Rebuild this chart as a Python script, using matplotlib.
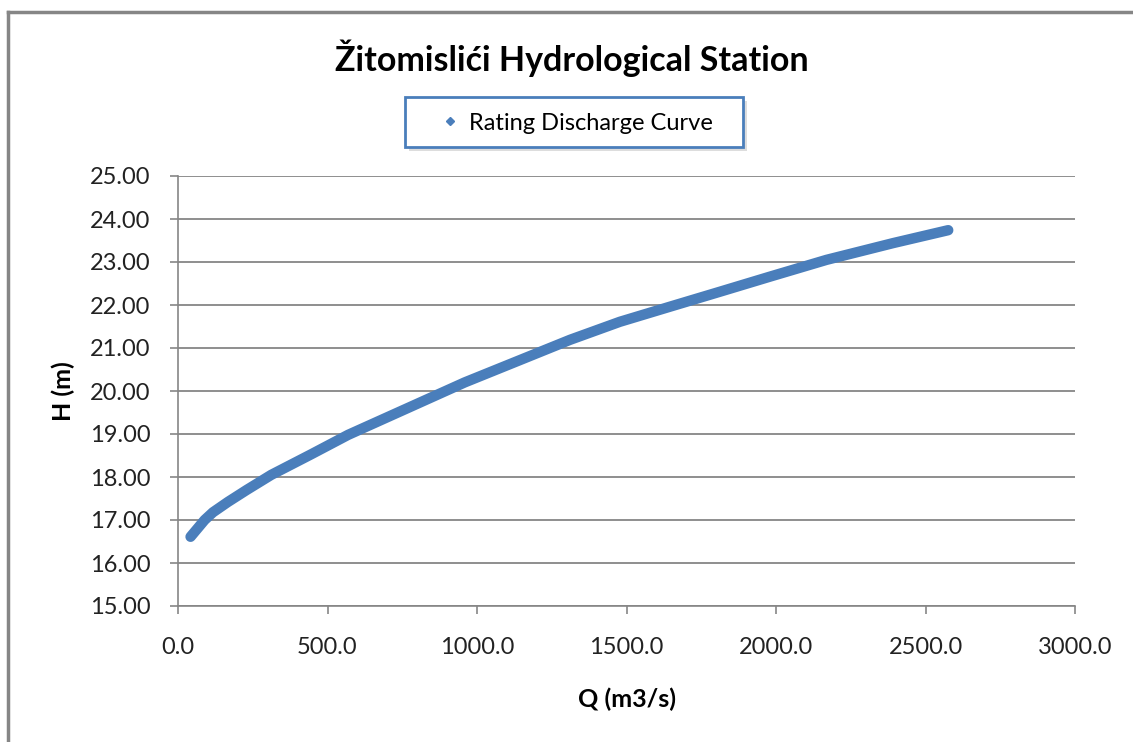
import matplotlib
matplotlib.use("Agg")
import matplotlib.pyplot as plt
from matplotlib.lines import Line2D
from matplotlib.patches import Rectangle

# rating curve points
discharge = [42, 89, 117, 167, 230, 312, 446, 569, 780, 959, 1144, 1311,
             1478, 1645, 1813, 1980, 2169, 2392, 2576]
stage = [16.61, 17.00, 17.18, 17.42, 17.70, 18.05, 18.53, 18.98, 19.64, 20.20,
         20.72, 21.19, 21.61, 21.96, 22.31, 22.66, 23.05, 23.44, 23.74]

x_ticks = [0, 500, 1000, 1500, 2000, 2500, 3000]
y_ticks = [15, 16, 17, 18, 19, 20, 21, 22, 23, 24, 25]

plt.rcParams["font.family"] = ["Lato", "DejaVu Sans"]
blue = "#4A7EBB"
grey = "#868686"
W, H = 1133, 742

fig = plt.figure(figsize=(W / 100, H / 100), dpi=100)
ax = fig.add_axes([178 / W, 136 / H, 897 / W, 430 / H])

ax.plot(discharge, stage, color=blue, linewidth=7.5, solid_capstyle="round",
        solid_joinstyle="round", label="Rating Discharge Curve")

ax.set_xlim(0, 3000)
ax.set_ylim(15, 25)
ax.set_xticks(x_ticks)
ax.set_xticklabels([f"{v:.1f}" for v in x_ticks])
ax.set_yticks(y_ticks)
ax.set_yticklabels([f"{v:.2f}" for v in y_ticks])
ax.tick_params(axis="both", labelsize=17, color=grey, length=6, width=1.2,
               labelcolor="#222222")
ax.tick_params(axis="x", pad=16.5)
ax.tick_params(axis="y", pad=14)
ax.grid(axis="y", color=grey, linewidth=1.3)
ax.set_axisbelow(True)
for side in ["top", "right"]:
    ax.spines[side].set_visible(False)
for side in ["left", "bottom"]:
    ax.spines[side].set_color(grey)
    ax.spines[side].set_linewidth(1.2)

ax.set_xlabel("Q (m3/s)", fontsize=18, fontweight="bold", labelpad=21)
ax.set_ylabel("H (m)", fontsize=18, fontweight="bold", labelpad=10.5)
fig.text(572 / W, 1 - 58 / H, "Žitomislići Hydrological Station",
         fontsize=24.5, fontweight="bold", ha="center", va="center")

# legend box with soft shadow, drawn in figure pixels
box_x0, box_y0, box_x1, box_y1 = 405, 97, 743, 147
fig.add_artist(Rectangle(((box_x0 + 4) / W, 1 - (box_y1 + 4) / H),
                         (box_x1 - box_x0) / W, (box_y1 - box_y0) / H,
                         transform=fig.transFigure, facecolor="#CFCFCF",
                         edgecolor="none", alpha=0.7, zorder=1))
fig.add_artist(Rectangle((box_x0 / W, 1 - box_y1 / H),
                         (box_x1 - box_x0) / W, (box_y1 - box_y0) / H,
                         transform=fig.transFigure, facecolor="white",
                         edgecolor=blue, linewidth=2, zorder=2))

handle = Line2D([], [], color=blue, marker="D", markersize=4, linestyle="none")
leg = fig.legend([handle], ["Rating Discharge Curve"], loc="center",
                 bbox_to_anchor=(578 / W, 1 - 123 / H), frameon=False,
                 fontsize=17, handlelength=0.6, handletextpad=0.5,
                 borderpad=0)
leg.set_zorder(3)

# outer chart frame (left and top edges visible)
fig.add_artist(Line2D([8 / W, 8 / W], [0, 1 - 12 / H],
                      transform=fig.transFigure, color=grey, linewidth=2.5))
fig.add_artist(Line2D([8 / W, 1], [1 - 12 / H, 1 - 12 / H],
                      transform=fig.transFigure, color=grey, linewidth=2.5))

fig.savefig("out.png", dpi=100)
